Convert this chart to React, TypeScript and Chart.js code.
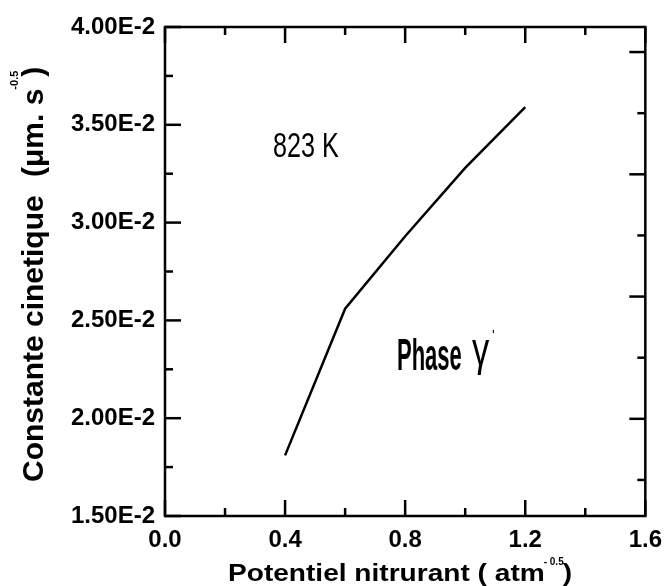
import React, { useEffect, useRef } from 'react';
import { Chart, registerables } from 'chart.js';

Chart.register(...registerables);

// ---- data ----
const potential = [0.4, 0.6, 0.8, 1.0, 1.2];
const rateConstant = [0.0181, 0.0256, 0.0293, 0.0328, 0.0359];

// ---- axes ----
const xMin = 0;
const xMax = 1.6;
const xMajorTicks = [0, 0.4, 0.8, 1.2, 1.6];
const xMinorTicks = [0.2, 0.6, 1.0, 1.4];
const yMin = 0.015;
const yMax = 0.04;
const yMajorTicks = [0.015, 0.02, 0.025, 0.03, 0.035, 0.04];
const yMinorTicks = [0.0175, 0.0225, 0.0275, 0.0325, 0.0375];
// right-hand frame ticks (independent spacing in the original)
const rightMin = -0.59;
const rightMax = 7.41;
const rightMajorTicks = [1, 3, 5, 7];
const rightMinorTicks = [0, 2, 4, 6];

const xTitle = 'Potentiel nitrurant ( atm';
const xTitleSup = '- 0.5';
const yTitleMain = 'Constante cinetique';
const yTitleUnit = '(\u03bcm. s';
const yTitleSup = '-0.5';
const tempLabel = '823 K';
const phaseLabel = 'Phase';
const phaseSymbol = '\u03b3';

const FONT = "'Liberation Sans', Arial, Helvetica, sans-serif";
const MAJOR = 16;
const MINOR = 8;

function drawText(ctx: CanvasRenderingContext2D, text: string, x: number, y: number, font: string, sx = 1) {
  ctx.save();
  ctx.translate(x, y);
  ctx.scale(sx, 1);
  ctx.font = font;
  ctx.textAlign = 'left';
  ctx.textBaseline = 'alphabetic';
  ctx.fillStyle = '#000';
  ctx.fillText(text, 0, 0);
  ctx.restore();
}

const framePlugin = {
  id: 'frameAndTexts',
  afterDraw(chart: any) {
    const { ctx, chartArea: a, scales } = chart;
    const xs = scales.x;
    const ys = scales.y;
    const rs = scales.y2;
    ctx.save();
    ctx.strokeStyle = '#000';
    ctx.lineWidth = 2.5;
    ctx.lineCap = 'butt';
    ctx.strokeRect(a.left, a.top, a.right - a.left, a.bottom - a.top);
    const seg = (x0: number, y0: number, x1: number, y1: number) => {
      ctx.beginPath();
      ctx.moveTo(x0, y0);
      ctx.lineTo(x1, y1);
      ctx.stroke();
    };
    const xTick = (v: number, len: number) => {
      const px = xs.getPixelForValue(v);
      seg(px, a.bottom, px, a.bottom - len);
      seg(px, a.top, px, a.top + len);
    };
    xMajorTicks.forEach((v) => xTick(v, MAJOR));
    xMinorTicks.forEach((v) => xTick(v, MINOR));
    yMajorTicks.forEach((v) => {
      const py = ys.getPixelForValue(v);
      seg(a.left, py, a.left + MAJOR, py);
    });
    yMinorTicks.forEach((v) => {
      const py = ys.getPixelForValue(v);
      seg(a.left, py, a.left + MINOR, py);
    });
    rightMajorTicks.forEach((v) => {
      const py = rs.getPixelForValue(v);
      seg(a.right, py, a.right - MAJOR, py);
    });
    rightMinorTicks.forEach((v) => {
      const py = rs.getPixelForValue(v);
      seg(a.right, py, a.right - MINOR, py);
    });

    // x axis title
    const xFont = `bold 24px ${FONT}`;
    const xsx = 1.17;
    ctx.font = xFont;
    const xw = ctx.measureText(xTitle).width * xsx;
    const xStart = 228;
    drawText(ctx, xTitle, xStart, 581, xFont, xsx);
    drawText(ctx, xTitleSup, xStart + xw - 1, 565, `bold 10px ${FONT}`);
    drawText(ctx, ')', xStart + xw + 18, 581, xFont, xsx);

    // y axis title (rotated)
    ctx.save();
    ctx.translate(43, 482);
    ctx.rotate(-Math.PI / 2);
    const yFont = `bold 30px ${FONT}`;
    drawText(ctx, yTitleMain, 0, 0, yFont);
    drawText(ctx, yTitleUnit, 305, 0, yFont);
    ctx.font = yFont;
    const uw = ctx.measureText(yTitleUnit).width;
    drawText(ctx, yTitleSup, 305 + uw - 1, -25, `bold 11px ${FONT}`);
    drawText(ctx, ')', 305 + uw + 12, 0, yFont);
    ctx.restore();

    // annotations
    drawText(ctx, tempLabel, 273, 157, `35px ${FONT}`, 0.72);
    drawText(ctx, phaseLabel, 397, 370, `bold 44px ${FONT}`, 0.5);
    drawText(ctx, phaseSymbol, 472, 365, `46px ${FONT}`, 0.75);
    drawText(ctx, "'", 492, 340, `14px ${FONT}`);
    ctx.restore();
  },
};

export default function App() {
  const canvasRef = useRef<HTMLCanvasElement | null>(null);

  useEffect(() => {
    const canvas = canvasRef.current;
    if (!canvas) return;
    const chart = new Chart(canvas, {
      type: 'line',
      data: {
        datasets: [
          {
            data: potential.map((x, i) => ({ x, y: rateConstant[i] })),
            borderColor: '#000',
            borderWidth: 2.5,
            pointRadius: 0,
            tension: 0,
            fill: false,
          },
        ],
      },
      options: {
        responsive: false,
        animation: false,
        layout: { padding: { top: 27, right: 26, left: 0, bottom: 0 } },
        plugins: { legend: { display: false }, tooltip: { enabled: false } },
        scales: {
          x: {
            type: 'linear',
            min: xMin,
            max: xMax,
            grid: { display: false, drawTicks: false },
            border: { display: false },
            afterBuildTicks: (s: any) => {
              s.ticks = xMajorTicks.map((v) => ({ value: v }));
            },
            afterFit: (s: any) => {
              s.height = 70;
            },
            ticks: {
              padding: 10,
              color: '#000',
              font: { family: FONT, size: 24, weight: 'bold' },
              maxRotation: 0,
              callback: (v: any) => Number(v).toFixed(1),
            },
          },
          y: {
            type: 'linear',
            min: yMin,
            max: yMax,
            grid: { display: false, drawTicks: false },
            border: { display: false },
            afterBuildTicks: (s: any) => {
              s.ticks = yMajorTicks.map((v) => ({ value: v }));
            },
            afterFit: (s: any) => {
              s.width = 165;
            },
            ticks: {
              padding: 10,
              color: '#000',
              font: { family: FONT, size: 24, weight: 'bold' },
              callback: (v: any) => (Number(v) * 100).toFixed(2) + 'E-2',
            },
          },
          y2: {
            type: 'linear',
            position: 'right',
            display: false,
            min: rightMin,
            max: rightMax,
          },
        },
      },
      plugins: [framePlugin],
    } as any);
    return () => chart.destroy();
  }, []);

  return (
    <div style={{ position: 'fixed', left: 0, top: 0, width: 672, height: 586, background: '#fff' }}>
      <canvas ref={canvasRef} width={672} height={586} style={{ display: 'block' }} />
    </div>
  );
}
